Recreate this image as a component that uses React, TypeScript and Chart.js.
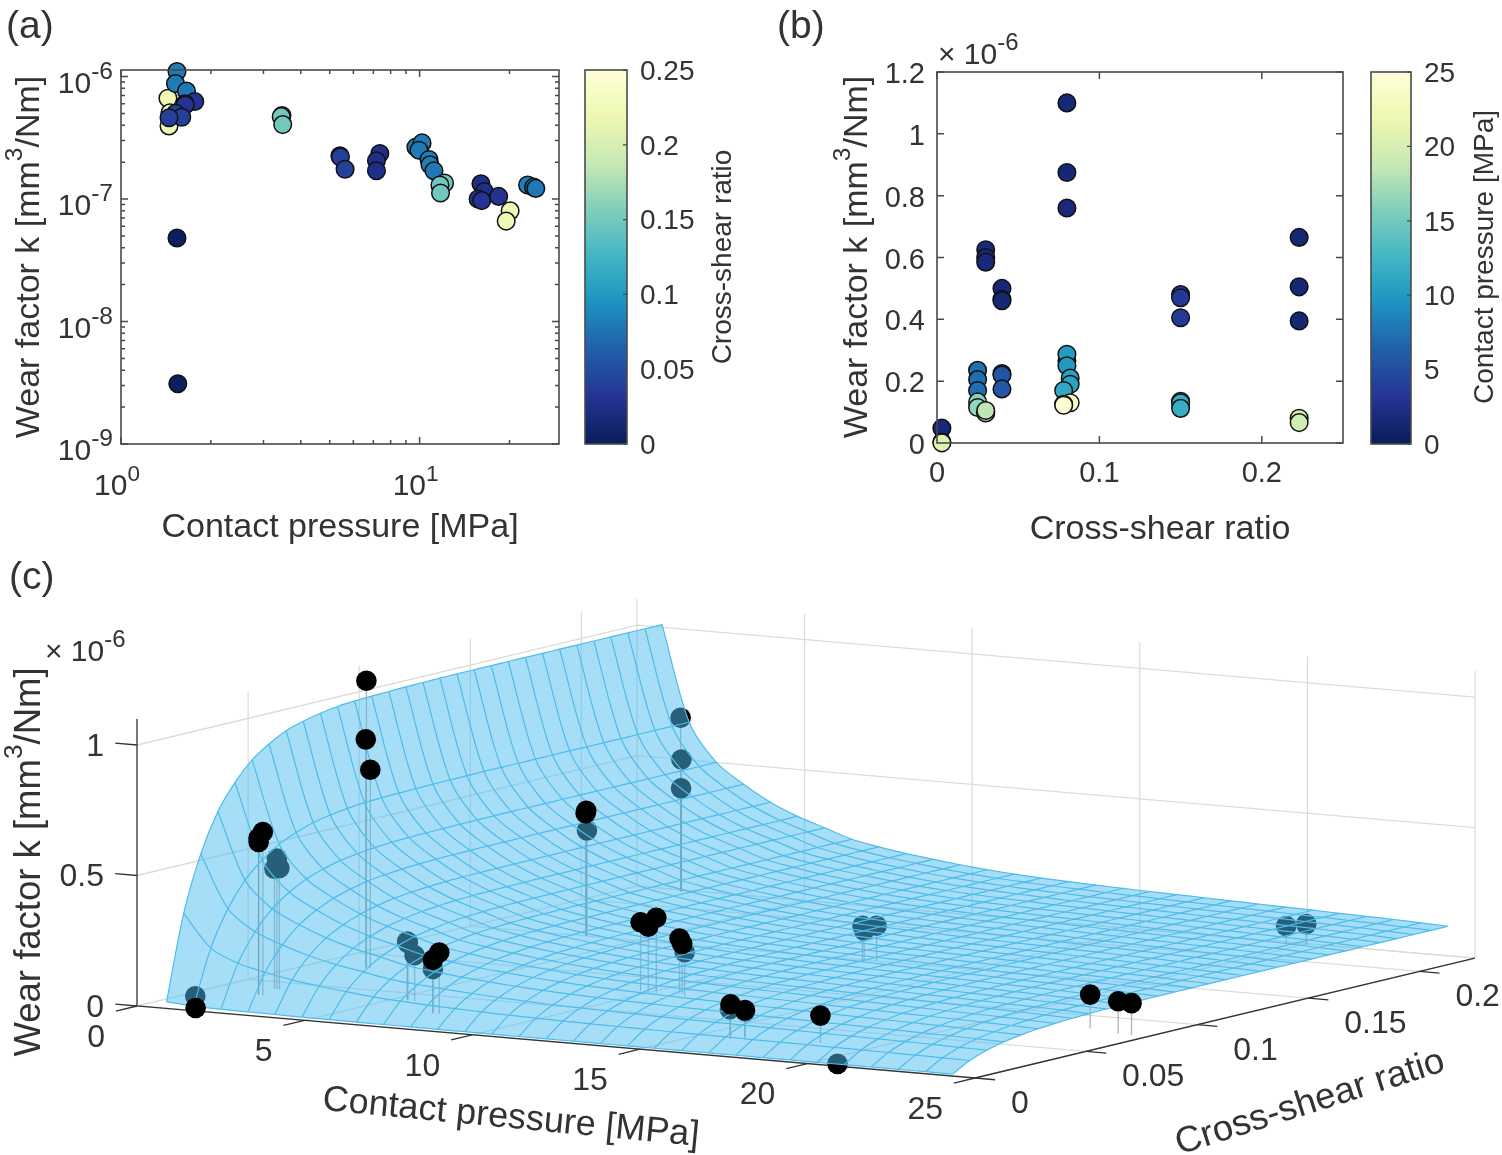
import React, { useEffect, useRef } from "react";
import { Chart, registerables } from "chart.js";

Chart.register(...registerables);

// Measured points, same set in all three panels. Wear factor is in units of 1e-6 mm3/Nm.
const contactPressure = [
  1.436, 1.459, 1.448, 3.46, 3.44, 3.48, 1.54, 1.55, 20.7,
  1.54, 1.522, 1.657, 1.766, 1.638, 1.64, 1.522, 1.597, 1.448,
  5.41, 5.43, 5.63, 7.36, 7.17, 7.17,
  9.72, 10.19, 9.95, 10.75, 10.83, 11.17,
  12.12, 11.7, 11.75, 16.05, 16.48, 15.7, 16.15, 18.4,
  20.1, 19.5, 23.0, 24.1, 24.5,
];
const crossShear = [
  0.223, 0.223, 0.223, 0.15, 0.15, 0.15, 0.003, 0.003, 0.003,
  0.08, 0.08, 0.08, 0.03, 0.03, 0.03, 0.04, 0.04, 0.04,
  0.04, 0.04, 0.04, 0.025, 0.025, 0.025,
  0.08, 0.08, 0.08, 0.082, 0.082, 0.078,
  0.15, 0.15, 0.15, 0.025, 0.025, 0.03, 0.03, 0.03,
  0.223, 0.223, 0.082, 0.078, 0.078,
];
const wearFactor = [
  0.665, 0.505, 0.395, 0.48, 0.47, 0.405, 0.048, 0.0031, 0.0005,
  1.1, 0.875, 0.76, 0.625, 0.6, 0.585, 0.5, 0.465, 0.46,
  0.225, 0.22, 0.175, 0.235, 0.205, 0.17,
  0.265, 0.287, 0.25, 0.21, 0.19, 0.17,
  0.135, 0.13, 0.112, 0.133, 0.115, 0.1, 0.097, 0.105,
  0.08, 0.066, 0.13, 0.125, 0.122,
];
// 1 = the dot sits in front of the surface in panel (c)
const overSurface = [
  0, 0, 0, 1, 1, 0, 0, 1, 0,
  1, 1, 1, 1, 1, 1, 0, 0, 0,
  0, 0, 0, 1, 1, 0,
  1, 1, 1, 1, 1, 0,
  0, 0, 0, 1, 1, 0, 0, 1,
  0, 0, 1, 1, 1,
];

// Fitted surface in panel (c), read along its two outer edges
const surfacePressure = [
  0.75, 1.56, 2.37, 3.18, 3.98, 4.79, 5.6, 6.41, 7.22, 8.03, 8.84, 9.64, 10.45, 11.26, 12.07,
  12.88, 13.69, 14.5, 15.3, 16.11, 16.92, 17.73, 18.54, 19.35, 20.16, 20.96, 21.77, 22.58, 23.39, 24.2,
];
const surfaceEdgeWear = [
  1.01, 0.645, 0.5, 0.425, 0.365, 0.32, 0.285, 0.25, 0.23, 0.213, 0.2, 0.188, 0.178, 0.17, 0.164,
  0.159, 0.155, 0.151, 0.148, 0.145, 0.142, 0.139, 0.136, 0.133, 0.13, 0.127, 0.124, 0.121, 0.117, 0.113,
];
const surfaceShear = [
  0.002, 0.0097, 0.0174, 0.0251, 0.0328, 0.0405, 0.0481, 0.0558, 0.0635, 0.0712, 0.0789, 0.0866, 0.0943, 0.102, 0.1097,
  0.1174, 0.125, 0.1327, 0.1404, 0.1481, 0.1558, 0.1635, 0.1712, 0.1789, 0.1866, 0.1943, 0.2019, 0.2096, 0.2173, 0.225,
];
const surfaceShearFactor = [
  0.02, 0.34, 0.55, 0.695, 0.79, 0.86, 0.905, 0.94, 0.96, 0.975, 0.985, 0.99, 0.993, 0.995, 0.997,
  0.998, 0.999, 1, 1, 1, 1, 1, 1, 1, 1, 1, 1, 1, 1, 1,
];

const wearTicksB = [0, 0.2, 0.4, 0.6, 0.8, 1, 1.2];
const shearTicksB = [0, 0.1, 0.2];
const shearBarTicks = [0, 0.05, 0.1, 0.15, 0.2, 0.25];
const pressureBarTicks = [0, 5, 10, 15, 20, 25];
const pressureTicksC = [0, 5, 10, 15, 20, 25];
const shearTicksC = [0, 0.05, 0.1, 0.15, 0.2];
const wearTicksC = [0, 0.5, 1];

const colormap = ["#081d58", "#253494", "#225ea8", "#1d91c0", "#41b6c4", "#7fcdbb", "#c7e9b4", "#edf8b1", "#ffffd9"];

const TEXT = "#333333";
const FONT = '"Liberation Sans", Arial, sans-serif';

const colorAt = (t: number) => {
  const pos = Math.min(Math.max(t, 0), 1) * (colormap.length - 1);
  const i = Math.min(Math.floor(pos), colormap.length - 2);
  const hex = (c: string, k: number) => parseInt(c.slice(1 + k * 2, 3 + k * 2), 16);
  const mix = [0, 1, 2].map((k) => Math.round(hex(colormap[i], k) + (hex(colormap[i + 1], k) - hex(colormap[i], k)) * (pos - i)));
  return `rgb(${mix.join(",")})`;
};

type Note = {
  parts: [string, boolean?][];
  x: number;
  y: number;
  size: number;
  angle?: number;
  align?: "left" | "center" | "right";
  supScale?: number;
};

const drawNote = (ctx: CanvasRenderingContext2D, n: Note) => {
  const supSize = n.size * (n.supScale || 0.68);
  const fontOf = (sup?: boolean) => `${sup ? supSize : n.size}px ${FONT}`;
  let total = 0;
  n.parts.forEach(([t, sup]) => {
    ctx.font = fontOf(sup);
    total += ctx.measureText(t).width;
  });
  ctx.save();
  ctx.translate(n.x, n.y);
  ctx.rotate(((n.angle || 0) * Math.PI) / 180);
  ctx.fillStyle = TEXT;
  ctx.textBaseline = "middle";
  ctx.textAlign = "left";
  let x = n.align === "left" ? 0 : n.align === "right" ? -total : -total / 2;
  n.parts.forEach(([t, sup]) => {
    ctx.font = fontOf(sup);
    ctx.fillText(t, x, sup ? -n.size * 0.42 : 0);
    x += ctx.measureText(t).width;
  });
  ctx.restore();
};

const notesPlugin = (notes: Note[], top = 0) => ({
  id: "notes",
  afterDraw(chart: any) {
    const { ctx } = chart;
    ctx.save();
    ctx.translate(0, -top);
    notes.forEach((n) => drawNote(ctx, n));
    ctx.restore();
  },
});

// box and inward ticks on all sides, like a MATLAB axes with box on
const framePlugin = (axes: string[]) => ({
  id: "frame",
  beforeDatasetsDraw(chart: any) {
    const { ctx, chartArea: a, scales } = chart;
    const bar = axes.length === 1;
    ctx.save();
    ctx.strokeStyle = "#4a4a4a";
    ctx.lineWidth = 1.5;
    ctx.beginPath();
    axes.forEach((id) => {
      const scale = scales[id];
      scale.ticks.forEach((t: any) => {
        const log = scale.type === "logarithmic";
        const lead = log ? t.value / Math.pow(10, Math.floor(Math.log10(t.value) + 1e-9)) : 1;
        if (log && Math.abs(lead - Math.round(lead)) > 1e-6) return;
        const major = !log || Math.abs(lead - 1) < 1e-6;
        const len = major ? 7 : 4;
        const px = scale.getPixelForValue(t.value);
        if (scale.isHorizontal()) {
          ctx.moveTo(px, a.bottom);
          ctx.lineTo(px, a.bottom - len);
          ctx.moveTo(px, a.top);
          ctx.lineTo(px, a.top + len);
        } else if (!bar) {
          ctx.moveTo(a.right, px);
          ctx.lineTo(a.right - len, px);
          ctx.moveTo(a.left, px);
          ctx.lineTo(a.left + len, px);
        }
      });
    });
    ctx.stroke();
    ctx.restore();
  },
  afterDraw(chart: any) {
    const { ctx, chartArea: a, scales } = chart;
    ctx.save();
    ctx.strokeStyle = "#4a4a4a";
    ctx.lineWidth = 1.6;
    ctx.strokeRect(a.left, a.top, a.right - a.left, a.bottom - a.top);
    if (axes.length === 1) {
      // colour bars only carry short ticks on the label side
      ctx.lineWidth = 1.3;
      ctx.beginPath();
      scales.y.ticks.forEach((t: any) => {
        const py = scales.y.getPixelForValue(t.value);
        ctx.moveTo(a.right, py);
        ctx.lineTo(a.right - 4, py);
      });
      ctx.stroke();
    }
    ctx.restore();
  },
});

// 10^n labels for the log axes of panel (a)
const powerTicksPlugin = {
  id: "powerTicks",
  afterDraw(chart: any) {
    const { ctx, scales } = chart;
    const isPower = (v: number) => Math.abs(Math.log10(v) - Math.round(Math.log10(v))) < 1e-6;
    scales.x.ticks.filter((t: any) => isPower(t.value)).forEach((t: any) => {
      const exp = String(Math.round(Math.log10(t.value)));
      drawNote(ctx, { parts: [["10"], [exp, true]], x: scales.x.getPixelForValue(t.value) - 4, y: 487, size: 30, supScale: 0.75 });
    });
    scales.y.ticks.filter((t: any) => isPower(t.value)).forEach((t: any) => {
      const exp = String(Math.round(Math.log10(t.value)));
      drawNote(ctx, { parts: [["10"], [exp, true]], x: 113, y: scales.y.getPixelForValue(t.value) + 8, size: 30, align: "right", supScale: 0.82 });
    });
  },
};

const wearTitle = (x: number, y: number, size: number): Note => ({
  parts: [["Wear factor k [mm"], ["3", true], ["/Nm]"]],
  x,
  y,
  size,
  angle: -90,
  supScale: 0.72,
});

const hiddenTicks = { display: false, autoSkip: false };
const quietAxis = { grid: { display: false, drawTicks: false }, border: { display: false } };
const baseOptions = {
  responsive: false,
  animation: false,
  events: [],
  plugins: { legend: { display: false }, tooltip: { enabled: false }, title: { display: false } },
};
const fixedTicks = (values: number[]) => (scale: any) => {
  scale.ticks = values.map((value) => ({ value }));
};
const tickFont = (size: number) => ({ family: FONT, size });

const dotStyle = (colors: string[]) => ({
  showLine: false,
  clip: false,
  pointRadius: 8.8,
  pointBackgroundColor: colors,
  pointBorderColor: "#111111",
  pointBorderWidth: 1.5,
});

const panelA = () => {
  const shown = wearFactor.map((k, i) => i).filter((i) => wearFactor[i] >= 0.001);
  return {
    type: "scatter",
    data: {
      datasets: [
        {
          data: shown.map((i) => ({ x: contactPressure[i], y: wearFactor[i] * 1e-6 })),
          ...dotStyle(shown.map((i) => colorAt(crossShear[i] / 0.25))),
        },
      ],
    },
    options: {
      ...baseOptions,
      layout: { padding: { top: 70, right: 16 }, autoPadding: false },
      scales: {
        x: { type: "logarithmic", min: 1, max: 29.3, ...quietAxis, ticks: hiddenTicks, afterFit: (s: any) => { s.height = 116; } },
        y: { type: "logarithmic", min: 1e-9, max: 1.13e-6, ...quietAxis, ticks: hiddenTicks, afterFit: (s: any) => { s.width = 121; } },
      },
    },
    plugins: [
      framePlugin(["x", "y"]),
      powerTicksPlugin,
      notesPlugin([
        { parts: [["(a)"]], x: 6, y: 27, size: 39, align: "left" },
        wearTitle(30, 257, 34),
        { parts: [["Contact pressure [MPa]"]], x: 340, y: 528, size: 34 },
      ]),
    ],
  };
};

const panelB = () => ({
  type: "scatter",
  data: {
    datasets: [
      {
        data: crossShear.map((s, i) => ({ x: s, y: wearFactor[i] })),
        ...dotStyle(contactPressure.map((p) => colorAt(p / 25))),
      },
    ],
  },
  options: {
    ...baseOptions,
    layout: { padding: { top: 72, right: 18 }, autoPadding: false },
    scales: {
      x: {
        type: "linear",
        min: 0,
        max: 0.25,
        ...quietAxis,
        afterBuildTicks: fixedTicks(shearTicksB),
        afterFit: (s: any) => { s.height = 117; },
        ticks: { autoSkip: false, maxRotation: 0, padding: 14, color: TEXT, font: tickFont(29), callback: (v: number) => String(v) },
      },
      y: {
        type: "linear",
        min: 0,
        max: 1.2,
        ...quietAxis,
        afterBuildTicks: fixedTicks(wearTicksB),
        afterFit: (s: any) => { s.width = 167; },
        ticks: { autoSkip: false, padding: 12, labelOffset: 3, color: TEXT, font: tickFont(29), callback: (v: number) => String(v) },
      },
    },
  },
  plugins: [
    framePlugin(["x", "y"]),
    notesPlugin([
      { parts: [["(b)"]], x: 7, y: 27, size: 39, align: "left" },
      wearTitle(88, 257, 34),
      { parts: [["Cross-shear ratio"]], x: 390, y: 530, size: 34 },
      { parts: [["× 10"], ["-6", true]], x: 168, y: 56, size: 30, align: "left", supScale: 0.8 },
    ]),
  ],
});

const colorBar = (max: number, ticks: number[], title: string, titleX: number, left: number, width: number, top: number) => ({
  type: "bar",
  data: {
    labels: [title],
    datasets: [
      {
        data: [[0, max]],
        barPercentage: 1,
        categoryPercentage: 1,
        backgroundColor: (c: any) => {
          const a = c.chart.chartArea;
          if (!a) return colormap[0];
          const g = c.chart.ctx.createLinearGradient(0, a.bottom, 0, a.top);
          colormap.forEach((col, i) => g.addColorStop(i / (colormap.length - 1), col));
          return g;
        },
      },
    ],
  },
  options: {
    ...baseOptions,
    layout: { padding: { left, top, bottom: 116 }, autoPadding: false },
    scales: {
      x: { display: false },
      y: {
        position: "right",
        min: 0,
        max,
        ...quietAxis,
        afterBuildTicks: fixedTicks(ticks),
        afterFit: (s: any) => { s.width = width; },
        ticks: { autoSkip: false, padding: 13, labelOffset: 2, color: TEXT, font: tickFont(28), callback: (v: number) => String(v) },
      },
    },
  },
  plugins: [framePlugin(["y"]), notesPlugin([{ parts: [[title]], x: titleX, y: 257, size: 28, angle: -90 }])],
});

// Orthographic view of panel (c): pressure, shear ratio and wear factor to page pixels
const project = (p: number, s: number, z: number) => ({
  x: 137 + 33.52 * p + 2222 * s,
  y: 1006 + 2.88 * p - 533 * s - 261 * z,
});

const P_MAX = 25;
const S_MAX = 0.225;
const Z_MAX = 1.1;

const panelC = () => {
  const sets: any[] = [];
  const line = (data: { x: number; y: number }[], borderColor: string, borderWidth: number, tension = 0) =>
    sets.push({ data, borderColor, borderWidth, showLine: true, pointRadius: 0, tension });

  // back walls and floor
  const grid = "#dcdcdc";
  shearTicksC.slice(1).concat(S_MAX).forEach((s) => {
    line([project(0, s, 0), project(0, s, Z_MAX)], grid, 1.3);
    line([project(0, s, 0), project(P_MAX, s, 0)], grid, 1.3);
  });
  pressureTicksC.slice(1).forEach((p) => {
    line([project(p, S_MAX, 0), project(p, S_MAX, Z_MAX)], grid, 1.3);
    line([project(p, 0, 0), project(p, S_MAX, 0)], grid, 1.3);
  });
  wearTicksC.forEach((z) => {
    line([project(0, 0, z), project(0, S_MAX, z), project(P_MAX, S_MAX, z)], grid, 1.3);
  });

  // axes
  const ink = "#333333";
  line([project(0, 0, Z_MAX), project(0, 0, 0), project(P_MAX, 0, 0), project(P_MAX, S_MAX, 0)], ink, 1.3);
  pressureTicksC.forEach((p) => line([project(p, 0, 0), project(p, -0.0095, 0)], ink, 1.3));
  shearTicksC.forEach((s) => line([project(P_MAX, s, 0), project(P_MAX + 0.6, s, 0)], ink, 1.3));
  wearTicksC.forEach((z) => line([project(0, 0, z), project(-0.65, 0, z)], ink, 1.3));

  // stems down to the floor
  wearFactor.forEach((k, i) => {
    line([project(contactPressure[i], crossShear[i], k), project(contactPressure[i], crossShear[i], 0)], "rgba(105,105,105,0.5)", 1.3);
  });

  const dots = (front: number) => ({
    data: wearFactor
      .map((k, i) => ({ k, i }))
      .filter(({ i }) => overSurface[i] === front)
      .map(({ k, i }) => project(contactPressure[i], crossShear[i], k)),
    showLine: false,
    pointRadius: 10.3,
    pointBorderWidth: 0,
    pointBackgroundColor: "#000000",
    clip: false,
  });
  sets.push(dots(0));

  // surface: translucent face, then the mesh
  const zAt = (i: number, j: number) => surfaceEdgeWear[i] * surfaceShearFactor[j];
  const last = surfacePressure.length - 1;
  const lastS = surfaceShear.length - 1;
  const row = (j: number) => surfacePressure.map((p, i) => project(p, surfaceShear[j], zAt(i, j)));
  const col = (i: number) => surfaceShear.map((s, j) => project(surfacePressure[i], s, zAt(i, j)));
  const outline = [...row(0), ...col(last), ...row(lastS).reverse(), ...col(0).reverse()];
  sets.push({
    data: outline,
    showLine: true,
    fill: "shape",
    backgroundColor: "rgba(80,190,240,0.5)",
    borderWidth: 0,
    pointRadius: 0,
    tension: 0.3,
  });
  const meshColor = "rgb(78,188,235)";
  surfaceShear.forEach((s, j) => line(row(j), meshColor, 1.2, 0.3));
  surfacePressure.forEach((p, i) => line(col(i), meshColor, 1.2, 0.3));

  sets.push(dots(1));

  const notes: Note[] = [
    { parts: [["(c)"]], x: 9, y: 578, size: 39, align: "left" },
    wearTitle(30, 862, 36.5),
    { parts: [["× 10"], ["-6", true]], x: 45, y: 653, size: 30, align: "left", supScale: 0.8 },
    { parts: [["Contact pressure [MPa]"]], x: 511, y: 1118, size: 36, angle: 5.5 },
    { parts: [["Cross-shear ratio"]], x: 1310, y: 1103, size: 36.5, angle: -17.5 },
  ];
  pressureTicksC.forEach((p) => {
    const at = project(p, 0, 0);
    notes.push({ parts: [[String(p)]], x: at.x - 32, y: at.y + 32, size: 32, align: "right" });
  });
  shearTicksC.forEach((s) => {
    const at = project(P_MAX, s, 0);
    notes.push({ parts: [[String(s)]], x: at.x + 36, y: at.y + 26, size: 32, align: "left" });
  });
  wearTicksC.forEach((z) => {
    const at = project(0, 0, z);
    notes.push({ parts: [[String(z)]], x: at.x - 33, y: at.y + 2, size: 32, align: "right" });
  });

  return {
    type: "scatter",
    data: { datasets: sets.map((d, i) => ({ ...d, order: -i })) },
    options: {
      ...baseOptions,
      layout: { padding: 0, autoPadding: false },
      scales: {
        x: { type: "linear", display: false, min: 0, max: 1502 },
        y: { type: "linear", display: false, min: 555, max: 1155, reverse: true },
      },
    },
    plugins: [notesPlugin(notes, 555)],
  };
};

const ChartCanvas = ({ left, top, width, height, build }: { left: number; top: number; width: number; height: number; build: () => any }) => {
  const ref = useRef<HTMLCanvasElement | null>(null);
  useEffect(() => {
    if (!ref.current) return;
    const chart = new Chart(ref.current, build());
    return () => chart.destroy();
  }, []);
  return <canvas ref={ref} width={width} height={height} style={{ position: "absolute", left, top, width, height }} />;
};

const App = () => (
  <div style={{ position: "absolute", left: 0, top: 0, width: 1502, height: 1155, background: "#ffffff", overflow: "hidden" }}>
    <ChartCanvas left={0} top={555} width={1502} height={600} build={panelC} />
    <ChartCanvas left={0} top={0} width={575} height={560} build={panelA} />
    <ChartCanvas left={575} top={0} width={195} height={560} build={() => colorBar(0.25, shearBarTicks, "Cross-shear ratio", 148, 10, 143, 70)} />
    <ChartCanvas left={770} top={0} width={591} height={560} build={panelB} />
    <ChartCanvas left={1361} top={0} width={141} height={560} build={() => colorBar(25, pressureBarTicks, "Contact pressure [MPa]", 124, 10, 91, 72)} />
  </div>
);

export default App;
